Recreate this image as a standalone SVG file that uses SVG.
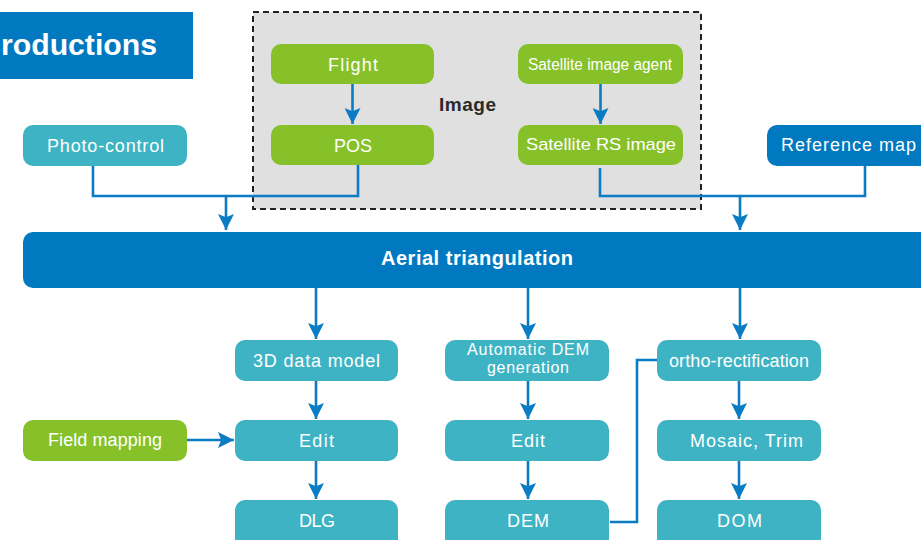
<svg xmlns="http://www.w3.org/2000/svg" width="921" height="540" viewBox="0 0 921 540">
<defs>
<style>
.g{fill:#86c12a}
.t{fill:#3eb3c4}
.b{fill:#0079c1}
.lbl{font-family:"Liberation Sans",Arial,sans-serif;font-size:18px;fill:#fff;text-anchor:middle}
.c{fill:none;stroke:#0a7cc4;stroke-width:2.6}
</style>
<marker id="ah" viewBox="0 0 10 10" refX="10" refY="5" markerWidth="16" markerHeight="16" markerUnits="userSpaceOnUse" orient="auto">
<path d="M0,0 L10,5 L0,10 L2,5 z" fill="#0a7cc4"/>
</marker>
</defs>
<rect width="921" height="540" fill="#fff"/>
<g id="title">
<rect x="0" y="12" width="193" height="67" class="b"/>
<text x="1" y="55" font-family="Liberation Sans,Arial,sans-serif" font-size="29" font-weight="bold" fill="#fff" textLength="156" lengthAdjust="spacingAndGlyphs">roductions</text>
</g>
<g id="image-group">
<rect x="253" y="12" width="448" height="197" fill="#e0e0e0" stroke="#222" stroke-width="2" stroke-dasharray="6,4"/>
<text x="467.5" y="111" font-family="Liberation Sans,Arial,sans-serif" font-size="19" font-weight="bold" fill="#2a2a2a" text-anchor="middle" textLength="57">Image</text>
</g>
<g id="flight"><rect x="271" y="44" width="163" height="40" rx="10" class="g"/><text x="353" y="71" class="lbl" textLength="50">Flight</text></g>
<g id="pos"><rect x="271" y="125" width="163" height="40" rx="10" class="g"/><text x="353" y="152" class="lbl" textLength="38">POS</text></g>
<g id="sat-agent"><rect x="518" y="44" width="165" height="40" rx="10" class="g"/><text x="600" y="70" class="lbl" style="font-size:16px" textLength="144" lengthAdjust="spacingAndGlyphs">Satellite image agent</text></g>
<g id="sat-rs"><rect x="518" y="125" width="165" height="40" rx="10" class="g"/><text x="601" y="150" class="lbl" style="font-size:17px" textLength="150" lengthAdjust="spacingAndGlyphs">Satellite RS image</text></g>
<g id="photo-control"><rect x="23" y="125" width="164" height="41" rx="10" class="t"/><text x="105.5" y="152" class="lbl" textLength="117">Photo-control</text></g>
<g id="reference-map"><rect x="767" y="125" width="170" height="41" rx="10" class="b"/><text x="848.5" y="151" class="lbl" textLength="135">Reference map</text></g>
<g id="aerial"><rect x="23" y="232" width="920" height="56" rx="10" class="b"/><text x="477" y="265" class="lbl" style="font-size:20px;font-weight:bold" textLength="192">Aerial triangulation</text></g>
<g id="model3d"><rect x="235" y="340" width="163" height="41" rx="10" class="t"/><text x="316.5" y="367" class="lbl" textLength="127">3D data model</text></g>
<g id="autodem"><rect x="445" y="340" width="164" height="41" rx="10" class="t"/><text x="528" y="355" class="lbl" style="font-size:16px" textLength="122">Automatic DEM</text><text x="528" y="373" class="lbl" style="font-size:16px" textLength="82">generation</text></g>
<g id="ortho"><rect x="657" y="340" width="164" height="41" rx="10" class="t"/><text x="739" y="367" class="lbl" textLength="140">ortho-rectification</text></g>
<g id="field-mapping"><rect x="23" y="420" width="164" height="41" rx="10" class="g"/><text x="105" y="446" class="lbl" textLength="114">Field mapping</text></g>
<g id="edit1"><rect x="235" y="420" width="163" height="41" rx="10" class="t"/><text x="316.5" y="447" class="lbl" textLength="35">Edit</text></g>
<g id="edit2"><rect x="445" y="420" width="164" height="41" rx="10" class="t"/><text x="528" y="447" class="lbl" textLength="34">Edit</text></g>
<g id="mosaic"><rect x="657" y="420" width="164" height="41" rx="10" class="t"/><text x="746.5" y="447" class="lbl" textLength="113">Mosaic, Trim</text></g>
<g id="dlg"><rect x="235" y="500" width="163" height="50" rx="10" class="t"/><text x="317" y="527" class="lbl" textLength="36">DLG</text></g>
<g id="dem"><rect x="445" y="500" width="164" height="50" rx="10" class="t"/><text x="528" y="527" class="lbl" textLength="42">DEM</text></g>
<g id="dom"><rect x="657" y="500" width="164" height="50" rx="10" class="t"/><text x="739.5" y="527" class="lbl" textLength="45">DOM</text></g>
<g id="connectors">
<path class="c" d="M352.5,84 V124" marker-end="url(#ah)"/>
<path class="c" d="M600.5,84 V124" marker-end="url(#ah)"/>
<path class="c" d="M93,166 V196 H358 V165"/>
<path class="c" d="M226,196 V230" marker-end="url(#ah)"/>
<path class="c" d="M600,168 V196 H865 V166"/>
<path class="c" d="M740,196 V230" marker-end="url(#ah)"/>
<path class="c" d="M316,288 V339" marker-end="url(#ah)"/>
<path class="c" d="M528,288 V339" marker-end="url(#ah)"/>
<path class="c" d="M740,288 V339" marker-end="url(#ah)"/>
<path class="c" d="M316,381 V419" marker-end="url(#ah)"/>
<path class="c" d="M528,381 V419" marker-end="url(#ah)"/>
<path class="c" d="M739,381 V419" marker-end="url(#ah)"/>
<path class="c" d="M316,461 V499" marker-end="url(#ah)"/>
<path class="c" d="M528,461 V499" marker-end="url(#ah)"/>
<path class="c" d="M739,461 V499" marker-end="url(#ah)"/>
<path class="c" d="M187,440 H234" marker-end="url(#ah)"/>
<path class="c" d="M610,522 H637 V360 H657"/>
</g>
</svg>
